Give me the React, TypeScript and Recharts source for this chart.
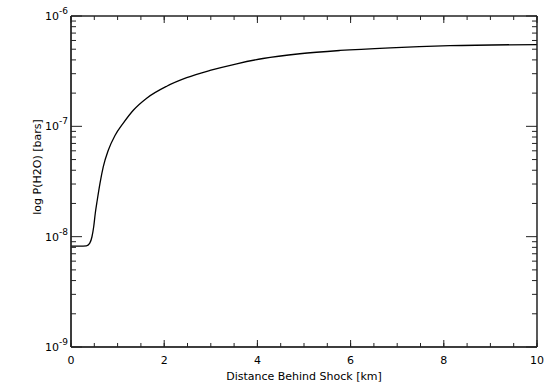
import { LineChart, Line, XAxis, YAxis } from "recharts";

// values
const distance = [0, 0.19, 0.33, 0.4, 0.45, 0.487, 0.521, 0.564, 0.622, 0.693, 0.8, 0.944, 1.122, 1.337, 1.624, 2.054, 2.483, 2.983, 3.556, 4.12, 4.91, 5.77, 6.85, 8.13, 10];
const pressure = [8.2e-9, 8.2e-9, 8.25e-9, 8.69e-9, 9.98e-9, 1.23e-8, 1.63e-8, 2.15e-8, 3.04e-8, 4.31e-8, 6.07e-8, 8.26e-8, 1.07e-7, 1.4e-7, 1.8e-7, 2.31e-7, 2.76e-7, 3.21e-7, 3.69e-7, 4.12e-7, 4.55e-7, 4.87e-7, 5.15e-7, 5.38e-7, 5.51e-7];

const xMinor = [0, 0.5, 1, 1.5, 2, 2.5, 3, 3.5, 4, 4.5, 5, 5.5, 6, 6.5, 7, 7.5, 8, 8.5, 9, 9.5, 10];
const xMajor = [0, 2, 4, 6, 8, 10];
const yMajor = [1e-9, 1e-8, 1e-7, 1e-6];
const yMinor = [-9, -8, -7].flatMap((d) => [2, 3, 4, 5, 6, 7, 8, 9].map((m) => m * Math.pow(10, d)));

const data = distance.map((d, i) => ({ d, p: pressure[i] }));

const font = "'DejaVu Sans', sans-serif";
const axisColor = "#222";

const bottomLabel = (props: any) => (
  <text x={props.x} y={props.y + 17} textAnchor="middle" fontSize={11} fontFamily={font} fill="#000">
    {props.payload.value}
  </text>
);

const leftLabel = (props: any) => (
  <text x={props.x - 3} y={props.y + 4} textAnchor="end" fontSize={11} fontFamily={font} fill="#000">
    10
    <tspan dy={-6} fontSize={9}>
      {Math.round(Math.log10(props.payload.value))}
    </tspan>
  </text>
);

const noLabel = () => <g />;

const yTitle = () => (
  <text x={37} y={167} transform="rotate(-90, 37, 167)" textAnchor="middle" dominantBaseline="central" fontSize={11} fontFamily={font} fill="#000">
    log P(H2O) [bars]
  </text>
);

const xCommon = { dataKey: "d", type: "number" as const, domain: [0, 10], interval: 0 as const, stroke: axisColor };
const yCommon = { scale: "log" as const, type: "number" as const, domain: [1e-9, 1e-6], interval: 0 as const, allowDataOverflow: true, stroke: axisColor };
// mirrored, nearly zero-size axes: tick marks point into the plot box and take no room
const inner = { mirror: true, tick: noLabel, tickMargin: 0, tickLine: { stroke: axisColor } };
const thin = 0.001;

export default function App() {
  return (
    <div style={{ position: "absolute", left: 0, top: 0, background: "#fff" }}>
      <LineChart width={545} height={384} data={data} margin={{ top: 16, right: 8, left: 0, bottom: 0 }}>
        <XAxis
          {...xCommon}
          xAxisId="b"
          ticks={xMajor}
          height={37}
          tickSize={0}
          tickMargin={0}
          tickLine={false}
          tick={bottomLabel}
          label={{ value: "Distance Behind Shock [km]", position: "insideBottom", offset: 4, fontSize: 11, fontFamily: font, fill: "#000" }}
        />
        <XAxis {...xCommon} {...inner} xAxisId="bm" ticks={xMinor} height={thin} tickSize={4} />
        <XAxis {...xCommon} {...inner} xAxisId="bM" ticks={xMajor} height={thin} tickSize={7} />
        <XAxis {...xCommon} {...inner} xAxisId="tm" orientation="top" ticks={xMinor} height={thin} tickSize={4} />
        <XAxis {...xCommon} {...inner} xAxisId="tM" orientation="top" ticks={xMajor} height={thin} tickSize={7} />
        <YAxis
          {...yCommon}
          yAxisId="l"
          ticks={yMajor}
          width={71}
          tickSize={0}
          tickMargin={0}
          tickLine={false}
          tick={leftLabel}
          label={{ value: "log P(H2O) [bars]", content: yTitle }}
        />
        <YAxis {...yCommon} {...inner} yAxisId="lm" ticks={yMinor} width={thin} tickSize={5} />
        <YAxis {...yCommon} {...inner} yAxisId="lM" ticks={yMajor} width={thin} tickSize={11} />
        <YAxis {...yCommon} {...inner} yAxisId="rm" orientation="right" ticks={yMinor} width={thin} tickSize={5} />
        <YAxis {...yCommon} {...inner} yAxisId="rM" orientation="right" ticks={yMajor} width={thin} tickSize={11} />
        <Line
          xAxisId="b"
          yAxisId="l"
          type="monotone"
          dataKey="p"
          stroke="#000"
          strokeWidth={1.3}
          dot={false}
          isAnimationActive={false}
        />
      </LineChart>
    </div>
  );
}
